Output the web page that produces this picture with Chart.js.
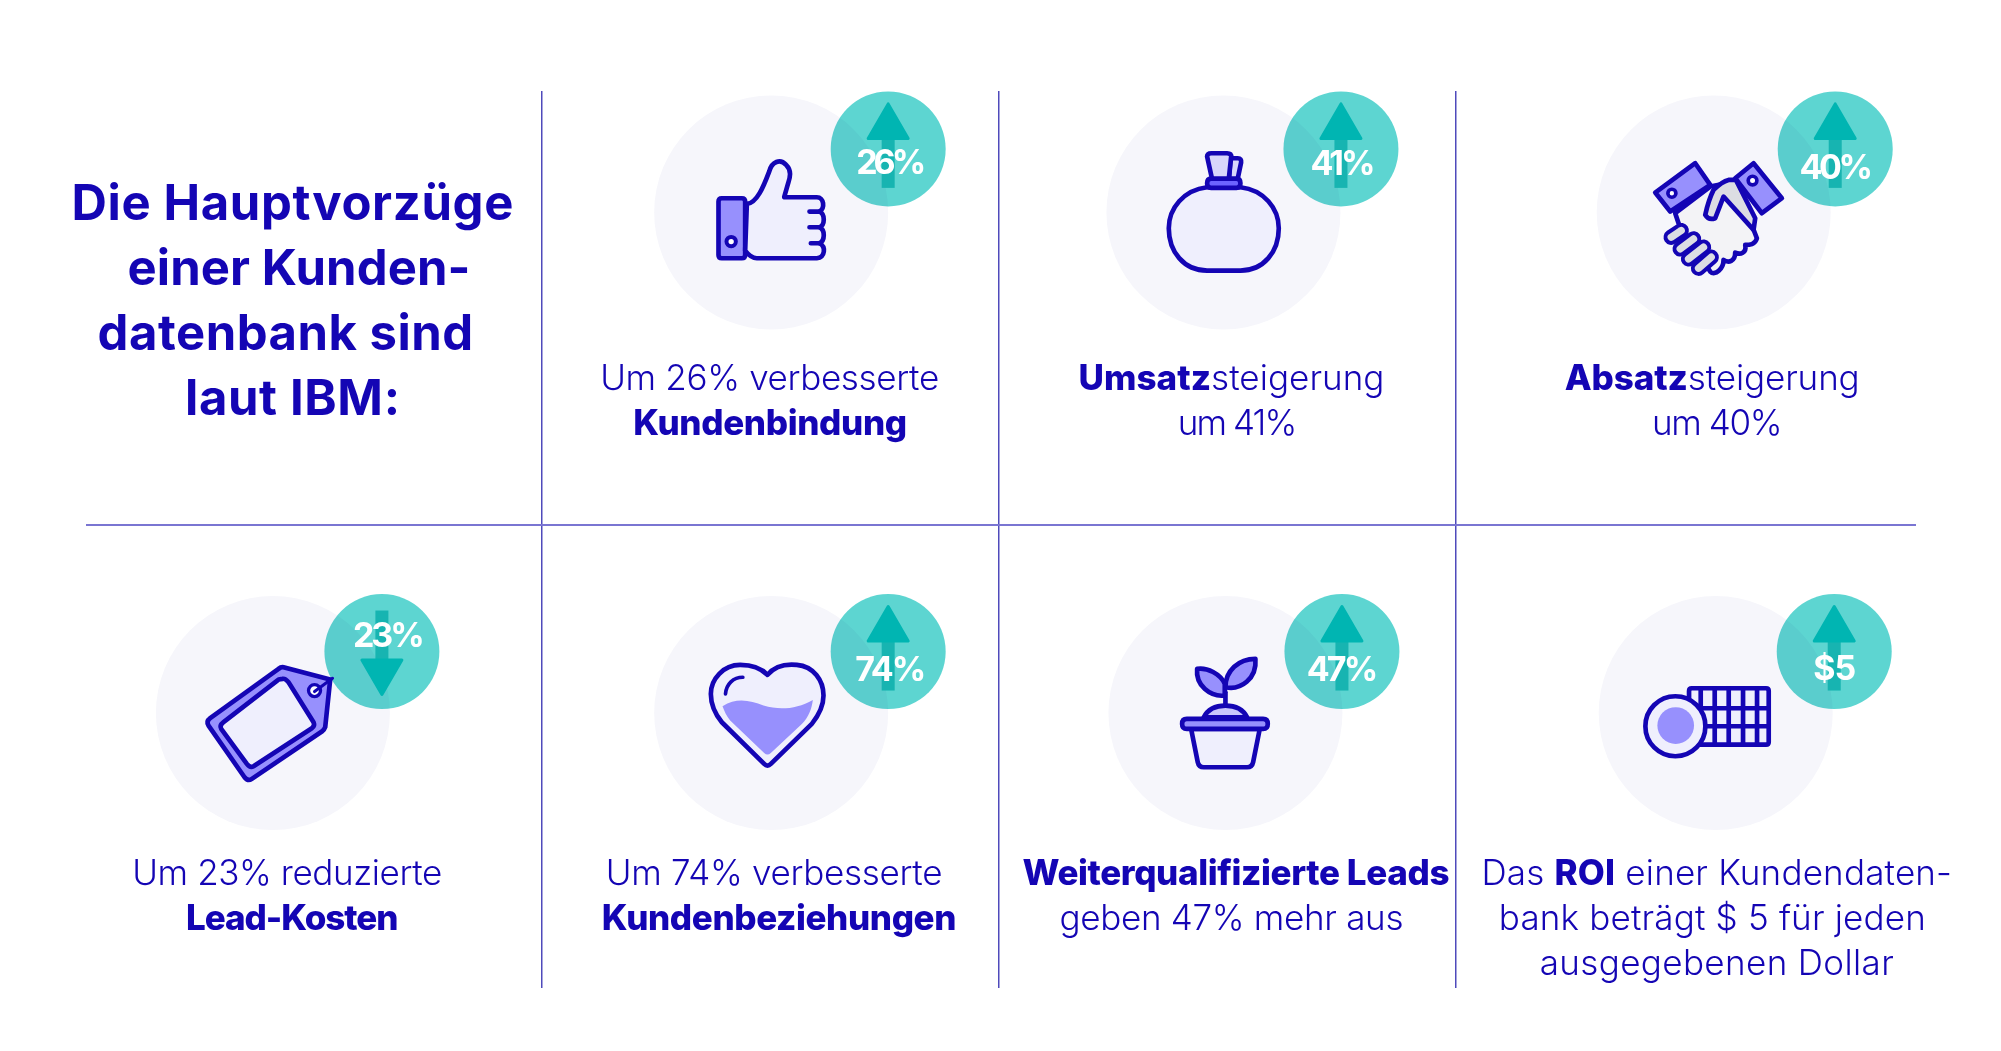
<!DOCTYPE html>
<html lang="de">
<head>
<meta charset="utf-8">
<title>Die Hauptvorzüge einer Kundendatenbank</title>
<script src="https://cdn.jsdelivr.net/npm/chart.js@4"></script>
<style>
    html, body { margin: 0; padding: 0; background: #fff; }
    canvas { display: block; }
</style>
</head>
<body>
<canvas id="chart" width="2001" height="1051"></canvas>
<script>
// --- data ---
const titleLines = ['Die Hauptvorzüge', 'einer Kunden-', 'datenbank sind', 'laut IBM:'];
const benefitValues = [26, 41, 40, -23, 74, 47, 5];
const badgeLabels = ['26%', '41%', '40%', '23%', '74%', '47%', '$5'];
const iconNames = ['thumb', 'bag', 'hands', 'tag', 'heart', 'plant', 'coins'];
const benefitLines = [ // *...* is bold
    ['Um 26% verbesserte', '*Kundenbindung*'],
    ['*Umsatz*steigerung', 'um 41%'],
    ['*Absatz*steigerung', 'um 40%'],
    ['Um 23% reduzierte', '*Lead-Kosten*'],
    ['Um 74% verbesserte', '*Kundenbeziehungen*'],
    ['*Weiterqualifizierte Leads*', 'geben 47% mehr aus'],
    ['Das *ROI* einer Kundendaten-', 'bank beträgt $ 5 für jeden', 'ausgegebenen Dollar']
];
const tileCol = [1, 2, 3, 0, 1, 2, 3];
const tileRow = [0, 0, 0, 1, 1, 1, 1];

// --- layout, in pixels relative to the cell or the circle ---
const colWidth = 457.25;
const rowHeight = 433.5;
const rowCenter = [0.280, 1.4348]; // in y scale units
const tileNudge = [1, -4, 29, -40, 1, -2, 31];
const badgeOffset = [[117, -63.5], [117.5, -63.5], [121.5, -63.5], [109, -61.5], [117, -61.5], [116.5, -61.5], [118.5, -61.5]];
const badgeTextDx = [3, 2, 1, 7, 2.5, 0.5, 0.5];
const badgeTextDy = [25.5, 26.5, 30.5, -4.5, 29.5, 29.5, 28.5];
const badgeTextWidth = [70, 65, 73.5, 72, 71, 71.5, 43];
const lineCenter = [[-1.5, -1], [8, 14], [-1.5, 3.5], [14.3, 19.3], [3, 8], [10.5, 6], [1, -3.4, 1]];
const lineWidth = [[339, 274], [306, 119.5], [295, 130.5], [310, 212.4], [336.6, 354.6], [427, 344], [470.5, 427, 354]];
const lineTop = [178, 171.5]; // first baseline below the circle centre, by row
const titleCenter = [292.4, 299, 285.4, 292.5];
const titleWidth = [442, 343, 375.6, 215];
const titleBase = [219.5, 284.5, 349.5, 414.5];

const FONT = 'Inter, "Open Sans", sans-serif';
const INK = '#1405b4';
const LIGHT = '#efeffd';
const MID = '#9790fd';
const LILAC = '#d8d6fb';
const GREY = '#dcdde3';

// icons are written in 3x pixels of their own small box; ox, oy place the box relative to the circle centre
const icons = {
    thumb: { ox: -71, oy: -122.5, shapes: [
        { d: 'M65,325 L125,325 Q135,325 135,335 L135,495 Q135,505 125,505 L65,505 Q55,505 55,495 L55,335 Q55,325 65,325 Z', fill: MID },
        { d: 'M140,342 C170,340 190,290 207,245 C215,215 240,205 258,225 C275,242 270,262 264,280 L252,322 L350,322 C372,322 375,355 358,365 C375,372 375,405 358,412 C375,420 375,452 358,460 C378,470 375,503 350,505 L170,505 C155,505 145,495 135,482 Z', fill: LIGHT },
        { d: 'M358,365 L328,365 M358,412 L328,412 M358,460 L332,460' },
        { d: 'M107,455 A14,14 0 1 1 79,455 A14,14 0 1 1 107,455 Z', fill: '#fff', w: 12 }
    ] },
    bag: { ox: -73, oy: -72.5, shapes: [
        { d: 'M240,55 L262,55 Q274,55 272,68 L260,125 L235,125 Z', fill: LILAC },
        { d: 'M170,50 Q170,40 183,40 L230,40 Q244,40 242,52 L235,118 L185,118 Z', fill: LILAC },
        { d: 'M170,142 L270,142 C340,150 385,205 385,265 C385,335 340,392 270,392 L170,392 C100,392 55,335 55,265 C55,205 100,150 170,142 Z', fill: LIGHT },
        { d: 'M182,116 L258,116 Q270,116 270,130 Q270,144 258,144 L182,144 Q170,144 170,130 Q170,116 182,116 Z', fill: '#6c63ff' }
    ] },
    hands: { ox: -68.5, oy: -62.5, shapes: [
        { d: 'M90,190 L195,110 L270,95 L335,265 C330,285 312,285 300,285 C305,310 285,315 270,308 C270,335 250,340 235,330 C235,355 210,380 195,365 L100,220 Z', fill: '#f3f3f6' },
        { d: 'M250,90 Q230,95 205,120 Q190,150 180,195 Q190,212 210,205 L235,140 L325,240 L330,205 L272,90 Z', fill: GREY },
        { d: 'M150,40 L195,105 L75,185 L30,128 Z', fill: MID },
        { d: 'M325,40 L410,145 L350,190 L270,85 Z', fill: MID },
        { d: 'M92,130 A12,12 0 1 1 68,130 A12,12 0 1 1 92,130 Z', fill: '#fff', w: 11 },
        { d: 'M335,92 A13,13 0 1 1 309,92 A13,13 0 1 1 335,92 Z', fill: '#fff', w: 11 },
        { capsule: [78, 262, 108, 242] },
        { capsule: [105, 297, 145, 267] },
        { capsule: [130, 327, 175, 292] },
        { capsule: [160, 355, 198, 322] }
    ] },
    tag: { ox: -77.7, oy: -57.5, shapes: [
        { d: 'M265,35 L405,72 L390,215 Q388,222 380,228 L170,370 Q158,378 148,365 L40,210 Q32,198 45,188 L250,40 Q258,33 265,35 Z', fill: MID },
        { d: 'M262,70 Q270,68 280,80 L355,200 Q360,212 350,218 L175,332 Q165,338 155,325 L78,220 Q72,210 85,200 L250,72 Z', fill: LIGHT },
        { d: 'M376,105 A18,18 0 1 1 340,105 A18,18 0 1 1 376,105 Z', fill: '#fff', w: 10 },
        { d: 'M358,108 L412,68', w: 9 }
    ] },
    heart: { ox: -71, oy: -57.5, shapes: [
        { d: 'M202,58 C225,30 260,25 290,28 C340,32 370,75 370,120 C370,150 355,180 335,205 L212,325 Q202,335 192,325 L65,200 C45,175 32,150 32,115 C32,70 70,28 120,28 C150,28 180,35 202,58 Z', fill: LIGHT },
        { d: 'M67,152 C110,125 150,135 190,150 C240,165 290,160 338,133 C335,160 325,185 305,205 L212,292 Q202,302 192,292 L90,195 C78,180 72,165 67,152 Z', fill: MID, noStroke: true },
        { d: 'M76,115 C78,85 100,65 128,65', w: 11 }
    ] },
    plant: { ox: -55, oy: -62.5, shapes: [
        { d: 'M165,125 L165,170' },
        { d: 'M80,55 C110,50 150,70 163,100 L163,135 C120,140 75,105 80,55 Z', fill: MID },
        { d: 'M255,25 C205,25 165,60 165,110 C210,120 260,85 255,25 Z', fill: MID },
        { d: 'M100,200 C115,170 140,165 165,165 C190,165 215,170 230,200 Z', fill: '#c9c6fc' },
        { d: 'M62,235 L82,335 Q85,350 100,350 L230,350 Q245,350 248,335 L268,235 Z', fill: LIGHT },
        { d: 'M49,205 L278,205 Q292,205 292,220 Q292,235 278,235 L49,235 Q35,235 35,220 Q35,205 49,205 Z', fill: MID }
    ] },
    coins: { ox: -81, oy: -37.5, shapes: [
        { d: 'M171,38 L394,38 Q402,38 402,46 L402,199 Q402,207 394,207 L171,207 Q163,207 163,199 L163,46 Q163,38 171,38 Z', fill: LIGHT },
        { d: 'M163,98 L402,98 M163,152 L402,152 M198,38 L198,207 M240,38 L240,207 M282,38 L282,207 M325,38 L325,207 M367,38 L367,207' },
        { d: 'M212,152 A90,90 0 1 1 32,152 A90,90 0 1 1 212,152 Z', fill: LIGHT },
        { d: 'M178,150 A55,55 0 1 1 68,150 A55,55 0 1 1 178,150 Z', fill: MID, noStroke: true }
    ] }
};

const tileX = i => tileCol[i] + 0.5 + tileNudge[i] / colWidth;
const tileY = i => rowCenter[tileRow[i]];

// one line of text, with letter spacing set so the line gets the wanted width
const drawLine = (ctx, text, centerX, baseY, wantedWidth, regular, bold) => {
    const runs = text.split('*').map((t, n) => ({ t, font: n % 2 ? bold : regular })).filter(r => r.t);
    ctx.letterSpacing = '0px';
    let natural = 0;
    let chars = 0;
    runs.forEach(r => {
        ctx.font = r.font;
        natural += ctx.measureText(r.t).width;
        chars += r.t.length;
    });
    const spacing = (wantedWidth - natural) / Math.max(chars - 1, 1);
    ctx.letterSpacing = spacing + 'px';
    ctx.textAlign = 'left';
    ctx.textBaseline = 'alphabetic';
    let x = centerX - wantedWidth / 2;
    runs.forEach(r => {
        ctx.font = r.font;
        ctx.fillText(r.t, x, baseY);
        x += ctx.measureText(r.t).width;
    });
    ctx.letterSpacing = '0px';
};

const drawIcon = (ctx, icon, cx, cy) => {
    ctx.save();
    ctx.translate(cx + icon.ox, cy + icon.oy);
    ctx.scale(1 / 3, 1 / 3);
    ctx.lineJoin = 'round';
    ctx.lineCap = 'round';
    icon.shapes.forEach(s => {
        if (s.capsule) {
            const [x1, y1, x2, y2] = s.capsule;
            const p = new Path2D(`M${x1},${y1} L${x2},${y2}`);
            ctx.strokeStyle = INK;
            ctx.lineWidth = 46;
            ctx.stroke(p);
            ctx.strokeStyle = GREY;
            ctx.lineWidth = 22;
            ctx.stroke(p);
            return;
        }
        const p = new Path2D(s.d);
        if (s.fill) {
            ctx.fillStyle = s.fill;
            ctx.fill(p);
        }
        if (!s.noStroke) {
            ctx.strokeStyle = INK;
            ctx.lineWidth = s.w || 14;
            ctx.stroke(p);
        }
    });
    ctx.restore();
};

const drawArrow = (ctx, cx, cy, down) => {
    const dir = down ? -1 : 1;
    const shift = down ? -2 : 0;
    const y = v => cy + dir * v + shift;
    ctx.save();
    ctx.fillStyle = '#17b4b1';
    ctx.fillRect(cx - 6.5, Math.min(y(-10), y(39)), 13, 49);
    ctx.fillStyle = '#00b5b2';
    ctx.strokeStyle = '#00b5b2';
    ctx.lineWidth = 3;
    ctx.lineJoin = 'round';
    ctx.beginPath();
    ctx.moveTo(cx, y(-45));
    ctx.lineTo(cx + 20, y(-10.5));
    ctx.lineTo(cx - 20, y(-10.5));
    ctx.closePath();
    ctx.fill();
    ctx.stroke();
    ctx.restore();
};

const infographic = {
    id: 'infographic',
    // the badges darken what lies under them
    beforeDatasetDraw(chart, args) {
        if (args.index === 1) chart.ctx.globalCompositeOperation = 'multiply';
    },
    afterDatasetDraw(chart, args) {
        if (args.index === 1) chart.ctx.globalCompositeOperation = 'source-over';
    },
    afterDatasetsDraw(chart) {
        const ctx = chart.ctx;
        const circles = chart.getDatasetMeta(0).data;
        const badges = chart.getDatasetMeta(1).data;

        ctx.save();
        badges.forEach((b, i) => drawArrow(ctx, b.x, b.y, benefitValues[i] < 0));

        circles.forEach((c, i) => drawIcon(ctx, icons[iconNames[i]], c.x, c.y));

        ctx.fillStyle = '#fff';
        badges.forEach((b, i) => {
            const f = `700 34px ${FONT}`;
            drawLine(ctx, badgeLabels[i], b.x + badgeTextDx[i], b.y + badgeTextDy[i], badgeTextWidth[i], f, f);
        });

        ctx.fillStyle = INK;
        circles.forEach((c, i) => {
            benefitLines[i].forEach((line, n) => {
                const base = c.y + lineTop[tileRow[i]] + n * 45;
                drawLine(ctx, line, c.x + lineCenter[i][n], base, lineWidth[i][n], `300 35px ${FONT}`, `800 35px ${FONT}`);
            });
        });

        titleLines.forEach((line, n) => {
            const f = `750 49px ${FONT}`;
            drawLine(ctx, line, titleCenter[n], titleBase[n], titleWidth[n], f, f);
        });
        ctx.restore();
    }
};

new Chart(document.getElementById('chart'), {
    type: 'scatter',
    data: {
        datasets: [{
            data: benefitValues.map((v, i) => ({ x: tileX(i), y: tileY(i) })),
            order: 2,
            pointRadius: 117,
            pointBackgroundColor: '#f6f6fb',
            pointBorderWidth: 0,
            clip: false
        }, {
            data: benefitValues.map((v, i) => ({
                x: tileX(i) + badgeOffset[i][0] / colWidth,
                y: tileY(i) + badgeOffset[i][1] / rowHeight
            })),
            order: 1,
            pointRadius: 57.5,
            pointBackgroundColor: '#5dd5d1',
            pointBorderWidth: 0,
            clip: false
        }]
    },
    options: {
        responsive: false,
        animation: false,
        layout: { autoPadding: false, padding: { left: 86, right: 85, top: 91, bottom: 63 } },
        plugins: { legend: { display: false }, tooltip: { enabled: false } },
        scales: {
            x: {
                type: 'linear',
                min: 0.0038,
                max: 4.0058,
                afterBuildTicks: axis => { axis.ticks = [1, 2, 3].map(value => ({ value })); },
                ticks: { display: false },
                border: { display: false },
                grid: { color: '#4f4abb', lineWidth: 1.5, drawTicks: false }
            },
            y: {
                type: 'linear',
                reverse: true,
                min: 0,
                max: 2.069,
                afterBuildTicks: axis => { axis.ticks = [{ value: 1 }]; },
                ticks: { display: false },
                border: { display: false },
                grid: { color: '#7a75d2', lineWidth: 2, drawTicks: false }
            }
        }
    },
    plugins: [infographic]
});
</script>
</body>
</html>
